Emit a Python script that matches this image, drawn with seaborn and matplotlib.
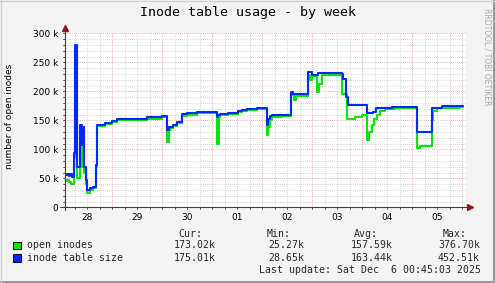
import matplotlib
matplotlib.use("Agg")
import matplotlib.pyplot as plt
import seaborn as sns
import pandas as pd
import numpy as np
from matplotlib.patches import Rectangle
from matplotlib.lines import Line2D

# ---- data (time in days since Nov 29 00:00, values in thousands) ----
blue_t = [-0.94, -0.91, -0.87, -0.85, -0.81, -0.775, -0.755, -0.70, -0.645, -0.615,
          -0.595, -0.56, -0.52, -0.50, -0.44, -0.38, -0.33, -0.30, -0.14, -0.006,
          0.094, 0.33, 0.69, 0.99, 1.10, 1.14, 1.21, 1.29, 1.39, 1.49,
          1.69, 2.09, 2.12, 2.15, 2.32, 2.52, 2.59, 2.69, 2.89, 3.09,
          3.12, 3.16, 3.20, 3.57, 3.62, 3.92, 4.0, 4.12, 4.59, 4.62,
          4.68, 4.72, 5.09, 5.22, 5.28, 5.39, 5.6, 6.09, 6.39, 6.6,
          6.95, 7.02]
blue_v = [55, 57, 54, 57, 53, 93, 280, 70, 142, 107,
          138, 70, 47, 30, 33, 35, 73, 142, 145, 149,
          152, 153, 155, 157, 133, 138, 142, 147, 161, 162,
          165, 156, 159, 161, 163, 166, 168, 169, 171, 142,
          153, 157, 159, 198, 196, 234, 228, 231, 230, 222,
          191, 176, 162, 165, 171, 172, 173, 129, 172, 174,
          175, 175]

green_t = [-0.94, -0.90, -0.86, -0.82, -0.775, -0.755, -0.70, -0.645, -0.615, -0.595,
           -0.56, -0.52, -0.50, -0.44, -0.38, -0.33, -0.30, -0.14, -0.006, 0.094,
           0.33, 0.69, 0.99, 1.10, 1.13, 1.16, 1.21, 1.29, 1.39, 1.49,
           1.69, 2.09, 2.13, 2.15, 2.32, 2.52, 2.59, 2.69, 2.89, 3.09,
           3.12, 3.16, 3.20, 3.40, 3.57, 3.63, 3.68, 3.92, 3.95, 4.0,
           4.10, 4.14, 4.2, 4.55, 4.59, 4.70, 4.85, 5.0, 5.09, 5.13,
           5.2, 5.24, 5.29, 5.35, 5.45, 5.65, 6.09, 6.16, 6.39, 6.41,
           6.5, 6.95, 7.02]
green_v = [46, 47, 44, 40, 87, 188, 50, 105, 70, 113,
           60, 40, 25, 30, 33, 70, 140, 143, 147, 150,
           151, 153, 155, 113, 133, 136, 140, 145, 158, 160,
           163, 110, 155, 159, 161, 164, 166, 167, 169, 125,
           139, 150, 155, 157, 193, 185, 192, 228, 219, 226,
           199, 213, 228, 228, 196, 152, 155, 159, 116, 130,
           142, 153, 159, 166, 169, 171, 102, 106, 150, 166,
           171, 173, 173]

day_labels = ["28", "29", "30", "01", "02", "03", "04", "05"]
series_names = ["open inodes", "inode table size"]
cur_vals = ["173.02k", "175.01k"]
min_vals = ["25.27k", "28.65k"]
avg_vals = ["157.59k", "163.44k"]
max_vals = ["376.70k", "452.51k"]
y_ticks = [0, 50, 100, 150, 200, 250, 300]
y_tick_labels = ["0", "50 k", "100 k", "150 k", "200 k", "250 k", "300 k"]

GREEN = "#00e800"
BLUE = "#0028ff"

sns.set_theme(style="white")
plt.rcParams["font.family"] = ["DejaVu Sans"]

W, H = 495, 283
fig = plt.figure(figsize=(W / 100, H / 100), dpi=100, facecolor="#f3f3f3")

L, R, T, B = 64.5, 465.5, 33.3, 207.3
ax = fig.add_axes([L / W, 1 - B / H, (R - L) / W, (B - T) / H])
ax.set_facecolor("white")
x0, x1 = -0.956, 7.064

dg = pd.DataFrame({"t": green_t, "v": green_v})
db = pd.DataFrame({"t": blue_t, "v": blue_v})
sns.lineplot(data=dg, x="t", y="v", ax=ax, color=GREEN, lw=1.5, drawstyle="steps-post",
             estimator=None, sort=False, legend=False, zorder=3)
sns.lineplot(data=db, x="t", y="v", ax=ax, color=BLUE, lw=1.5, drawstyle="steps-post",
             estimator=None, sort=False, legend=False, zorder=4)

# grid
for k in np.arange(-0.75, 7.06, 0.25):
    if abs(k - round(k)) > 1e-6:
        ax.axvline(k, color="#c8c8c8", lw=0.6, ls=(0, (1, 1.5)), zorder=0)
for k in range(0, 8):
    ax.axvline(k, color="#f09090", lw=0.6, ls=(0, (1, 1.5)), zorder=0.5)
for v in range(10, 301, 10):
    if v % 50:
        ax.axhline(v, color="#c8c8c8", lw=0.6, ls=(0, (1, 1.5)), zorder=0)
for v in range(50, 301, 50):
    ax.axhline(v, color="#f09090", lw=0.6, ls=(0, (1, 1.5)), zorder=0.5)

for s in ax.spines.values():
    s.set_visible(False)

ax.set_xticks([i - 0.5 for i in range(8)])
ax.set_xticklabels(day_labels)
ax.set_yticks(y_ticks)
ax.set_yticklabels(y_tick_labels)
ax.tick_params(axis="both", length=0, labelsize=6.5, colors="black")
ax.tick_params(axis="y", pad=4.3)
ax.tick_params(axis="x", pad=4.0)
ax.set_xlabel("")
ax.set_ylabel("")

# axis lines with arrows
axc = "#404040"
ax.add_line(Line2D([x0 - 0.08, x1 + 0.06], [0, 0], color=axc, lw=0.8, clip_on=False, zorder=5))
ax.add_line(Line2D([x0, x0], [-4, 306], color=axc, lw=0.8, clip_on=False, zorder=5))
ax.plot([x1 + 0.08], [0], marker=">", color="#8b1a1a", ms=4, clip_on=False, zorder=6)
ax.plot([x0], [309], marker="^", color="#8b1a1a", ms=4, clip_on=False, zorder=6)

# small tick marks on axes
for v in range(0, 301, 10):
    ax.add_line(Line2D([x0 - 0.04, x0], [v, v], color=axc, lw=0.6, clip_on=False))
for k in np.arange(-0.75, 7.06, 0.25):
    ax.add_line(Line2D([k, k], [0, -2.5], color=axc, lw=0.6, clip_on=False))

ax.set_xlim(x0, x1)
ax.set_ylim(0, 300)


def fx(px):
    return px / W


def fy(py):
    return 1 - py / H


mono = "DejaVu Sans Mono"
fig.text(fx(247.5), fy(12.5), "Inode table usage - by week", family=mono, fontsize=9.6,
         ha="center", va="center", color="black")
fig.text(fx(9.5), fy(116), "number of open inodes", rotation=90, fontsize=6.5,
         ha="center", va="center", color="black")
fig.text(fx(487.5), fy(57), "RRDTOOL / TOBI OETIKER", rotation=270, fontsize=5.5,
         ha="center", va="center", color="#a8a8a8")

fs = 7.1
hy = 234
for lab, xr in zip(["Cur:", "Min:", "Avg:", "Max:"], [202.3, 290.7, 377.7, 466.7]):
    fig.text(fx(xr), fy(hy), lab, family=mono, fontsize=fs, ha="right", va="center")

rows_y = [245.5, 258.0]
colors = [GREEN, BLUE]
for i in range(2):
    yy = rows_y[i]
    fig.add_artist(Rectangle((fx(13.3), fy(yy + 3.8)), 7.4 / W, 7.6 / H,
                             transform=fig.transFigure, facecolor=colors[i],
                             edgecolor="black", lw=0.7))
    fig.text(fx(26.7), fy(yy), series_names[i], family=mono, fontsize=fs, ha="left", va="center")
    for vals, xr in zip([cur_vals, min_vals, avg_vals, max_vals], [216, 304, 392.3, 480]):
        fig.text(fx(xr), fy(yy), vals[i], family=mono, fontsize=fs, ha="right", va="center")

fig.text(fx(481.3), fy(270), "Last update: Sat Dec  6 00:45:03 2025", family=mono,
         fontsize=fs, ha="right", va="center")

# border shading
fig.add_artist(Line2D([0, 1], [fy(282), fy(282)], transform=fig.transFigure, color="#9a9a9a", lw=1.5))
fig.add_artist(Line2D([fx(494), fx(494)], [0, 1], transform=fig.transFigure, color="#9a9a9a", lw=1.5))
fig.add_artist(Line2D([0, 1], [fy(0.5), fy(0.5)], transform=fig.transFigure, color="#d0d0d0", lw=1))
fig.add_artist(Line2D([fx(0.5), fx(0.5)], [0, 1], transform=fig.transFigure, color="#d0d0d0", lw=1))

fig.savefig("out.png", dpi=100, facecolor=fig.get_facecolor())
